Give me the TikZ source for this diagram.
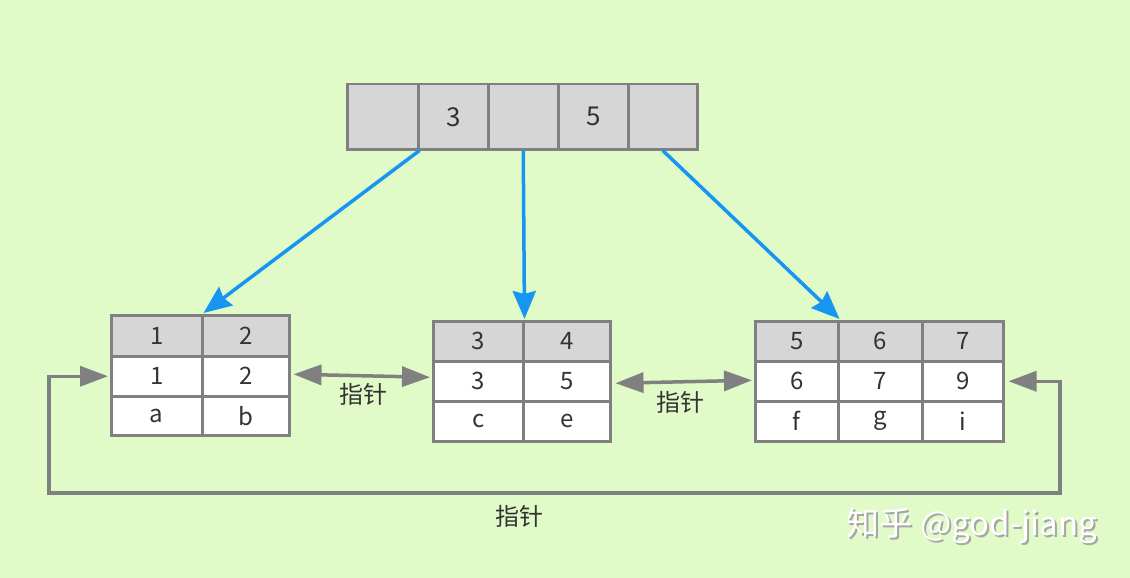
\documentclass[tikz,border=0pt]{standalone}
\usepackage{fontspec}
\setmainfont{Noto Sans CJK SC}
\usetikzlibrary{arrows.meta}
\definecolor{bg}{RGB}{224,250,200}
\definecolor{hdr}{RGB}{214,214,214}
\definecolor{bord}{RGB}{128,128,128}
\definecolor{blu}{RGB}{22,150,240}
\definecolor{txt}{RGB}{51,51,51}
\newcommand\mkcell[7]{\node[cellbox,fill=#6,minimum width=#4pt,minimum height=#5pt] (#1) at (#2,#3) {#7};}
\begin{document}
\begin{tikzpicture}[x=1pt,y=-1pt,
  cellbox/.style={draw=bord,line width=2.5pt,anchor=north west,inner sep=0pt,text=txt,font=\fontsize{24}{24}\selectfont},
  topbox/.style={cellbox,font=\fontsize{26}{26}\selectfont},
  bluearrow/.style={draw=blu,line width=3.5pt,-{Stealth[length=28pt,width=23pt,inset=3pt]}},
  grayarrow/.style={draw=bord,line width=3.5pt,{Triangle[length=28pt,width=20pt]}-{Triangle[length=28pt,width=20pt]}},
  lbl/.style={text=txt,font=\fontsize{24}{24}\selectfont,inner sep=0pt}]
\useasboundingbox (0,0) rectangle (1130,578);
\fill[bg] (0,0) rectangle (1130,578);
% top node
\node[topbox,fill=hdr,minimum width=71pt,minimum height=65pt] (t1) at (346,83) {};
\node[topbox,fill=hdr,minimum width=70pt,minimum height=65pt] (t2) at (417,83) {3};
\node[topbox,fill=hdr,minimum width=70pt,minimum height=65pt] (t3) at (487,83) {};
\node[topbox,fill=hdr,minimum width=70pt,minimum height=65pt] (t4) at (557,83) {5};
\node[topbox,fill=hdr,minimum width=69pt,minimum height=65pt] (t5) at (627,83) {};
% left table
\mkcell{l11}{110}{314}{91}{41}{hdr}{1}
\mkcell{l12}{201}{314}{87}{41}{hdr}{2}
\mkcell{l21}{110}{355}{91}{40}{white}{1}
\mkcell{l22}{201}{355}{87}{40}{white}{2}
\mkcell{l31}{110}{395}{91}{39}{white}{a}
\mkcell{l32}{201}{395}{87}{39}{white}{b}
% middle table
\mkcell{m11}{432}{320}{90}{40}{hdr}{3}
\mkcell{m12}{522}{320}{87}{40}{hdr}{4}
\mkcell{m21}{432}{360}{90}{40}{white}{3}
\mkcell{m22}{522}{360}{87}{40}{white}{5}
\mkcell{m31}{432}{400}{90}{40}{white}{c}
\mkcell{m32}{522}{400}{87}{40}{white}{e}
% right table
\mkcell{r11}{754}{320}{83}{40}{hdr}{5}
\mkcell{r12}{837}{320}{84}{40}{hdr}{6}
\mkcell{r13}{921}{320}{81}{40}{hdr}{7}
\mkcell{r21}{754}{360}{83}{40}{white}{6}
\mkcell{r22}{837}{360}{84}{40}{white}{7}
\mkcell{r23}{921}{360}{81}{40}{white}{9}
\mkcell{r31}{754}{400}{83}{40}{white}{f}
\mkcell{r32}{837}{400}{84}{40}{white}{g}
\mkcell{r33}{921}{400}{81}{40}{white}{i}
% blue arrows
\draw[bluearrow] (t1.south east) -- ([yshift=1pt]l11.north east);
\draw[bluearrow] (t3.south) -- ([yshift=1pt]m11.north east);
\draw[bluearrow] (t5.south) -- ([yshift=1pt]r11.north east);
% gray arrows
\draw[grayarrow] ([xshift=3pt,yshift=2pt]l22.east) -- ([xshift=-2pt,yshift=4pt]m21.west);
\node[lbl] (p1) at (363,394) {指针};
\draw[grayarrow] ([xshift=4pt,yshift=-2pt]m22.east) -- ([xshift=-2pt,yshift=1pt]r21.west);
\node[lbl] (p2) at (680,402) {指针};
\coordinate (c1) at (1060,493);
\coordinate (c2) at (49,493);
\draw[grayarrow] ([xshift=4pt]r23.east) -- (r23.east -| c1) -- (c1) -- (c2) -- (c2 |- l21.west) -- ([xshift=-2pt]l21.west);
\node[lbl] (p3) at (519,516) {指针};
% watermark
\node[text=gray!70,font=\fontsize{33}{33}\selectfont,inner sep=0pt] (wm0) at (974,528) {知乎 @god-jiang};
\node[text=white,font=\fontsize{33}{33}\selectfont,inner sep=0pt] (wm) at (972,526) {知乎 @god-jiang};
\end{tikzpicture}
\end{document}
